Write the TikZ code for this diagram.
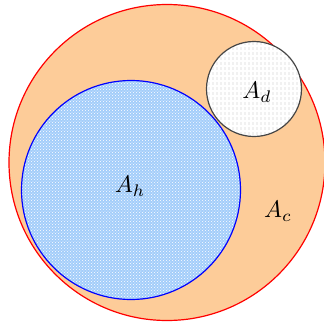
\documentclass[tikz,border=0pt]{standalone}
\usepackage{tikz}
\usetikzlibrary{patterns}
\definecolor{peach}{RGB}{253,204,153}
\definecolor{skyfill}{RGB}{163,205,250}
\definecolor{rimgray}{RGB}{70,70,70}
\pgfdeclarepatternformonly{vdashes}{\pgfpointorigin}{\pgfqpoint{4pt}{5pt}}{\pgfqpoint{4pt}{5pt}}{
  \pgfsetlinewidth{0.7pt}
  \pgfpathmoveto{\pgfqpoint{2pt}{1pt}}
  \pgfpathlineto{\pgfqpoint{2pt}{4pt}}
  \pgfusepath{stroke}}

\begin{document}
\begin{tikzpicture}[
  x=1pt, y=-1pt,
  lbl/.style={scale=2.4, transform shape},
  whole/.style={draw=red, line width=1.2pt, fill=peach},
  hot/.style={draw=blue, line width=1.2pt, preaction={fill=skyfill},
    pattern=crosshatch dots, pattern color=white},
  dry/.style={draw=rimgray, line width=1.2pt, preaction={fill=white},
    pattern=vdashes, pattern color=gray!30}
]
  \useasboundingbox (0,0) rectangle (324,325);

  % Whole region and the two inner circles
  \draw[whole] (167,162.5) circle (158);
  \draw[hot] (131,190) circle (109.5);
  \draw[dry] (254,89) circle (47.5);

  % Area labels
  \node[lbl] (ah) at (130,186) {$A_h$};
  \node[lbl] (ad) at (257,92) {$A_d$};
  \node[lbl] (ac) at (278,211) {$A_c$};
\end{tikzpicture}
\end{document}
